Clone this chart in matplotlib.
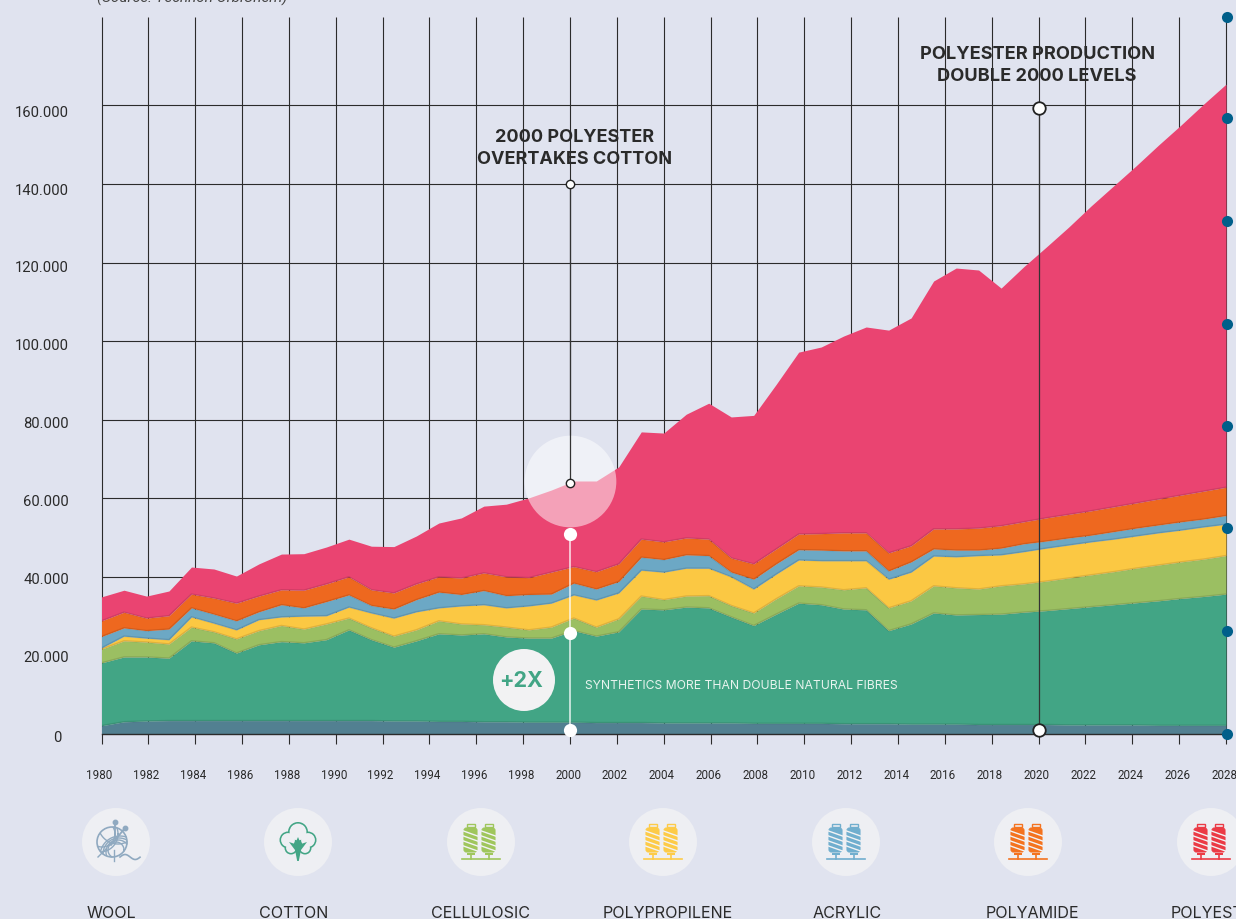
import numpy as np
import matplotlib
matplotlib.use('Agg')
import matplotlib.pyplot as plt
from matplotlib.patches import Circle, FancyBboxPatch, Rectangle

# stack tops, thousands of tonnes
wool_top = [2.1, 3.1, 3.3, 3.4, 3.4, 3.4, 3.4, 3.4, 3.4, 3.4,
            3.4, 3.4, 3.4, 3.3, 3.3, 3.2, 3.2, 3.1, 3.1, 3.0,
            3.0, 3.0, 2.9, 2.9, 2.9, 2.8, 2.8, 2.8, 2.8, 2.7,
            2.7, 2.7, 2.7, 2.6, 2.6, 2.6, 2.5, 2.5, 2.5, 2.4,
            2.4, 2.4, 2.4, 2.3, 2.3, 2.3, 2.3, 2.2, 2.2, 2.2, 2.2]
cotton_top = [18.1, 19.6, 19.6, 19.3, 23.7, 23.2, 20.6, 22.7, 23.5, 23.2,
              24.0, 26.5, 24.0, 22.1, 23.7, 25.5, 25.2, 25.5, 24.7, 24.4,
              24.4, 26.3, 24.9, 26.0, 31.8, 31.6, 32.3, 32.1, 29.8, 27.6,
              30.5, 33.3, 32.9, 31.8, 31.6, 26.3, 28.0, 30.8, 30.3, 30.4,
              30.5, 31.0, 31.4, 31.9, 32.4, 32.9, 33.4, 33.9, 34.5, 35.0, 35.6]
cellulosic_top = [21.6, 23.7, 23.4, 22.9, 27.2, 26.0, 24.2, 26.3, 27.6, 26.7,
                  28.0, 29.5, 27.0, 24.9, 26.5, 28.8, 28.0, 27.8, 27.2, 26.5,
                  27.2, 29.5, 27.2, 29.3, 35.1, 34.2, 35.1, 35.2, 32.7, 30.8,
                  34.4, 37.7, 37.4, 36.7, 37.2, 32.1, 33.9, 37.7, 37.2, 36.9,
                  37.7, 38.2, 38.9, 39.7, 40.5, 41.3, 42.2, 43.0, 43.8, 44.5, 45.4]
polypropilene_top = [21.9, 24.9, 24.4, 24.0, 29.8, 28.2, 26.5, 29.1, 29.8, 30.0,
                     30.1, 32.3, 30.8, 29.5, 31.1, 32.1, 32.6, 32.9, 32.1, 32.6,
                     33.3, 35.4, 34.1, 35.9, 41.7, 41.2, 42.2, 42.2, 40.0, 36.9,
                     40.7, 44.3, 44.1, 44.1, 44.1, 39.4, 41.2, 45.3, 45.1, 45.4,
                     45.6, 46.4, 47.3, 48.1, 48.9, 49.6, 50.4, 51.2, 51.9, 52.7, 53.4]
acrylic_top = [24.8, 27.0, 26.3, 26.7, 32.1, 30.5, 28.8, 31.1, 32.9, 32.1,
               33.7, 35.4, 32.7, 31.8, 34.2, 36.1, 35.5, 36.5, 35.2, 35.5,
               35.6, 38.4, 36.9, 38.8, 45.0, 44.4, 45.6, 45.4, 41.2, 39.4,
               43.3, 46.9, 46.8, 46.6, 46.6, 41.5, 43.8, 47.1, 46.8, 46.8,
               47.3, 48.4, 49.1, 49.9, 50.6, 51.5, 52.4, 53.2, 54.0, 54.7, 55.6]
polyamide_top = [28.8, 31.0, 29.5, 30.1, 35.6, 34.6, 33.3, 35.1, 36.7, 36.6,
                 38.2, 40.0, 36.7, 35.9, 38.2, 40.0, 39.7, 41.0, 40.0, 39.8,
                 41.2, 42.6, 41.3, 43.3, 49.6, 48.9, 49.9, 49.6, 44.8, 43.3,
                 47.1, 50.9, 51.0, 51.2, 51.2, 46.1, 47.9, 52.2, 52.2, 52.4,
                 53.0, 54.0, 55.0, 55.9, 56.8, 57.8, 58.8, 59.8, 60.8, 61.8, 62.8]
polyester_top = [34.9, 36.6, 35.1, 36.4, 42.5, 42.0, 40.2, 43.3, 45.8, 45.9,
                 47.6, 49.6, 47.8, 47.7, 50.4, 53.7, 55.0, 58.0, 58.5, 60.1,
                 62.1, 64.4, 64.4, 68.0, 76.9, 76.6, 81.4, 84.2, 80.7, 81.1,
                 89.0, 97.2, 98.5, 101.3, 103.6, 102.8, 105.9, 115.3, 118.6, 118.1,
                 113.5, 118.9, 123.9, 129.0, 134.4, 139.5, 144.6, 149.9, 155.0, 160.3, 165.4]

layer_tops = [wool_top, cotton_top, cellulosic_top, polypropilene_top,
              acrylic_top, polyamide_top, polyester_top]
layer_colors = ['#528091', '#42A585', '#9BBF62', '#FBC843', '#6CA8C5', '#EE681F', '#EA4471']

x_ticks = list(range(1980, 2029, 2))
y_ticks = [0, 20, 40, 60, 80, 100, 120, 140, 160]
y_labels = ['0', '20.000', '40.000', '60.000', '80.000', '100.000', '120.000', '140.000', '160.000']

fibre_names = ['WOOL', 'COTTON', 'CELLULOSIC', 'POLYPROPILENE', 'ACRYLIC', 'POLYAMIDE', 'POLYESTER']
fibre_label_x = [111, 294, 480, 668, 847, 1032, 1217]
icon_x = [116, 298, 481, 663, 846, 1028, 1211]
spool_colors = ['#9FC65C', '#FDCB48', '#70AECE', '#F4731F', '#EB3A45']

BG = '#E0E3EF'
INK = '#2A2A2A'
W, H = 1236, 920

plt.rcParams['font.family'] = ['Roboto', 'DejaVu Sans']
fig = plt.figure(figsize=(W / 100, H / 100), dpi=100, facecolor=BG)

# main axes: 1980-2028 spans px 101.5-1226, 0 sits at py 735
ax = fig.add_axes([101.5 / W, (H - 735) / H, (1226 - 101.5) / W, (735 - 18) / H])
ax.set_xlim(1980, 2028)
ax.set_ylim(0, 182.5)
ax.axis('off')

# the data runs on 51 evenly spaced samples squeezed onto the 2-yearly ticks
xs = np.linspace(1980, 2028, len(wool_top))

ax.vlines(x_ticks, -2.6, 182.5, color='#2b2b2b', lw=0.8, clip_on=False, zorder=1)
ax.hlines(y_ticks[1:], 1980, 2028, color='#2b2b2b', lw=0.8, zorder=1)

# grid does not show through the halo above the stack
ax.plot([2000], [64.4], 'o', ms=66, color=BG, mec='none', zorder=2, clip_on=False)

lower = np.zeros(len(xs))
for top_vals, col in zip(layer_tops, layer_colors):
    ax.fill_between(xs, lower, top_vals, color=col, lw=0, zorder=3)
    lower = np.array(top_vals)
for top_vals in layer_tops[:-1]:
    ax.plot(xs, top_vals, color='#000000', alpha=0.11, lw=1.2, zorder=4)

ax.plot([1980, 2028], [0, 0], color='#2b2b2b', lw=1.0, zorder=5, clip_on=False)

ax.plot([2000], [64.4], 'o', ms=66, color='white', alpha=0.5, mec='none', zorder=6, clip_on=False)
ax.plot([2000, 2000], [64, 140], color='#333333', lw=0.9, zorder=7)
ax.plot([2000, 2000], [64, 140], 'o', ms=6, mfc='white', mec='#222222', mew=1.0, ls='none', zorder=8)

ax.plot([2000, 2000], [1, 51], color='white', lw=1.2, alpha=0.8, zorder=7)
ax.plot([2000, 2000, 2000], [1, 25.7, 51], 'o', ms=9.5, color='white', mec='none', ls='none', zorder=8,
        clip_on=False)

ax.plot([2020, 2020], [1, 159.4], color='#333333', lw=0.9, zorder=7)
ax.plot([2020, 2020], [1, 159.4], 'o', ms=9, mfc='white', mec='#222222', mew=1.3, ls='none', zorder=8,
        clip_on=False)

# overlay in pixel coordinates for texts and icons
top = fig.add_axes([0, 0, 1, 1], zorder=5)
top.set_xlim(0, W)
top.set_ylim(H, 0)
top.axis('off')
top.patch.set_alpha(0)

for v, lab in zip(y_ticks, y_labels):
    py = 735 - v * 3.928
    off = 3 if v == 0 else 1.4 + 4.6 * v / 160
    top.text(62 if v == 0 else 69, py + off, lab, ha='right', va='center', fontsize=10.6, color=INK)
for yr in x_ticks:
    px = 101.5 + (yr - 1980) * 23.43
    top.text(px - 2, 776, str(yr), ha='center', va='center', fontsize=8.4, color=INK)

top.text(97, -2, '(Source: Technon OrbiChem)', ha='left', va='center', fontsize=11, style='italic', color='#444444')

head_font = ['Inter', 'DejaVu Sans']
top.text(575, 148.5, '2000 POLYESTER\nOVERTAKES COTTON', ha='center', va='center', fontsize=13,
         fontweight='bold', family=head_font, color=INK, linespacing=1.38)
top.text(1037, 65.5, 'POLYESTER PRODUCTION\nDOUBLE 2000 LEVELS', ha='center', va='center', fontsize=13.1,
         fontweight='bold', family=head_font, color=INK, linespacing=1.32)

top.add_patch(Circle((524, 681), 31, fc='#F2F2F3', ec='none'))
top.text(521, 681, '+2X', ha='center', va='center', fontsize=15.5, fontweight='bold', family=head_font,
         color='#42A585')
top.text(585, 686, 'SYNTHETICS MORE THAN DOUBLE NATURAL FIBRES', ha='left', va='center', fontsize=8.75,
         family=head_font, color='#E8F4EF')

# the column of dots on the right edge
dot_py = [18, 119, 222, 325, 427, 529, 632, 735]
top.plot([1227] * len(dot_py), dot_py, 'o', ms=8, color='#005F8A', mec='none', ls='none', clip_on=False)


def draw_wool(cx, cy):
    c = '#8FA9C0'
    bx = cx - 4
    top.plot([cx - 1, cx - 1], [cy - 20, cy - 4], color=c, lw=1.3)
    top.plot([cx + 9, cx - 5], [cy - 14, cy + 3], color=c, lw=1.3)
    top.plot([cx - 1, cx + 9], [cy - 20, cy - 14], 'o', ms=3.2, color=c, ls='none')
    top.add_patch(Circle((bx, cy), 15, fc='none', ec=c, lw=1.2))
    for r, dx, dy in [(20, 8, 14), (16, 7, 12), (12, 6, 10), (8, 4, 8), (18, -12, -8), (13, -10, -8), (20, 6, -18)]:
        t = np.linspace(0, 2 * np.pi, 120)
        px = bx + dx + r * np.cos(t)
        py = cy + dy + r * np.sin(t)
        px[(px - bx) ** 2 + (py - cy) ** 2 > 15 ** 2] = np.nan
        top.plot(px, py, color=c, lw=1.0)
    t = np.linspace(0, 1, 30)
    top.plot(bx + 8 + 20 * t, cy + 15 - 2.5 * np.sin(t * 6.2), color=c, lw=1.2)
    top.plot([bx - 14, bx - 6], [cy + 15, cy + 7], color=c, lw=1.0)
    top.plot([bx + 2, bx + 2], [cy + 8, cy + 19], color=c, lw=1.0)


def draw_cotton(cx, cy):
    c = '#42A585'
    lobes = [(0, -9, 10), (-10, -1, 8.5), (10, -1, 8.5), (-7, 7, 6.5), (7, 7, 6.5)]
    for dx, dy, r in lobes:
        top.add_patch(Circle((cx + dx, cy + dy), r, fc=c, ec='none', zorder=2))
    for dx, dy, r in lobes:
        top.add_patch(Circle((cx + dx, cy + dy), r - 1.6, fc='#EEEFF3', ec='none', zorder=3))
    top.fill([cx - 9, cx - 3, cx, cx + 3, cx + 9, cx + 3, cx + 0.8, cx - 0.8, cx - 3],
             [cy + 1, cy + 3, cy - 4, cy + 3, cy + 1, cy + 9, cy + 20, cy + 20, cy + 9],
             color=c, lw=0, zorder=4)


def draw_spools(cx, cy, c):
    for dx in (-10.5, 7.5):
        top.add_patch(FancyBboxPatch((cx + dx - 6.5, cy - 14), 13, 24, boxstyle='round,pad=0,rounding_size=2.5',
                                     fc=c, ec=c, lw=0.8, zorder=3))
        top.add_patch(Rectangle((cx + dx - 4, cy - 18), 8, 3, fc='none', ec=c, lw=1.0, zorder=3))
        top.add_patch(Rectangle((cx + dx - 4, cy + 11), 8, 1.5, fc=c, ec='none', zorder=3))
        top.plot([cx + dx, cx + dx], [cy + 12, cy + 17], color=c, lw=1.2, zorder=3)
        for sy in (-10, -5, 0, 5):
            top.plot([cx + dx - 7, cx + dx + 7], [sy + cy - 1, sy + cy + 4], color='#F2F3F5', lw=1.0, zorder=4)
    top.plot([cx - 19, cx + 19], [cy + 17, cy + 17], color=c, lw=1.2, zorder=3)


for px in icon_x:
    top.add_patch(Circle((px, 843), 34, fc='#EEEFF3', ec='none', zorder=1))
draw_wool(icon_x[0], 843)
draw_cotton(icon_x[1], 842)
for px, col in zip(icon_x[2:], spool_colors):
    draw_spools(px, 843, col)

for px, name in zip(fibre_label_x, fibre_names):
    top.text(px, 913.5, name, ha='center', va='center', fontsize=11.6, family=head_font, color=INK)

fig.savefig('out.png', dpi=100, facecolor=BG)
